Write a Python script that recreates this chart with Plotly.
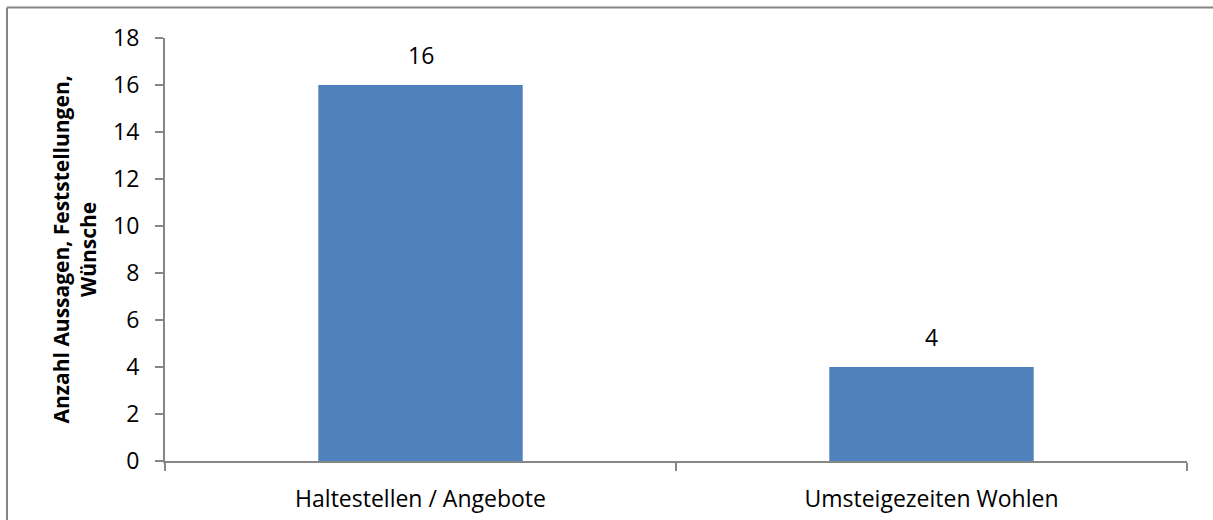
import plotly.graph_objects as go

categories = ["Haltestellen / Angebote", "Umsteigezeiten Wohlen"]
values = [16, 4]
y_ticks = [0, 2, 4, 6, 8, 10, 12, 14, 16, 18]
y_title = "Anzahl Aussagen, Feststellungen,<br>Wünsche"

W, H = 1213, 520
L, R, T, B = 165, 26, 38, 59
pw = W - L - R
ph = H - T - B

font = "Open Sans, Liberation Sans, sans-serif"
axis_col = "#868686"
fs = 23

fig = go.Figure(go.Bar(
    x=categories, y=values, marker_color="#4F81BD", marker_line_width=0,
    width=0.4, hoverinfo="skip",
))

for c, v in zip(categories, values):
    fig.add_annotation(x=c, y=v, text=str(v), showarrow=False, yanchor="bottom",
                       yshift=12, font=dict(family=font, size=fs, color="black"))

fig.add_annotation(text="<b>" + y_title + "</b>", xref="paper", yref="paper",
                   x=(74 - L) / pw, y=0.5, xanchor="center", yanchor="middle",
                   textangle=-90, showarrow=False,
                   font=dict(family=font, size=21, color="black"), align="center")

bx0 = (7 - L) / pw
bx1 = (W + 30 - L) / pw
by0 = (-B - 30) / ph
by1 = (H - 7.5 - B) / ph

fig.update_layout(
    width=W, height=H, margin=dict(l=L, r=R, t=T, b=B, autoexpand=False),
    paper_bgcolor="white", plot_bgcolor="white", showlegend=False,
    font=dict(family=font, size=fs, color="black"),
    xaxis=dict(type="category", tickson="boundaries", ticks="outside", ticklen=8,
               tickcolor=axis_col, tickwidth=2, showline=True, linecolor=axis_col, linewidth=2,
               showgrid=False, tickfont=dict(size=fs), range=[-0.5, 1.5],
               ticklabelstandoff=16, automargin=False),
    yaxis=dict(range=[0, 18], tickvals=y_ticks, ticks="outside", ticklen=8,
               tickcolor=axis_col, tickwidth=2, showline=True, linecolor=axis_col, linewidth=2,
               showgrid=False, zeroline=False, tickfont=dict(size=fs), ticklabelstandoff=11,
               automargin=False),
    shapes=[
        dict(type="line", xref="paper", yref="paper", x0=bx0, x1=bx1, y0=by1, y1=by1,
             line=dict(color=axis_col, width=2), layer="below"),
        dict(type="line", xref="paper", yref="paper", x0=bx0, x1=bx0, y0=by0, y1=by1,
             line=dict(color=axis_col, width=2), layer="below"),
    ],
)

fig.write_html("out.html", config={"displayModeBar": False},
               post_script="document.body.style.margin='0';document.body.style.overflow='hidden';")
